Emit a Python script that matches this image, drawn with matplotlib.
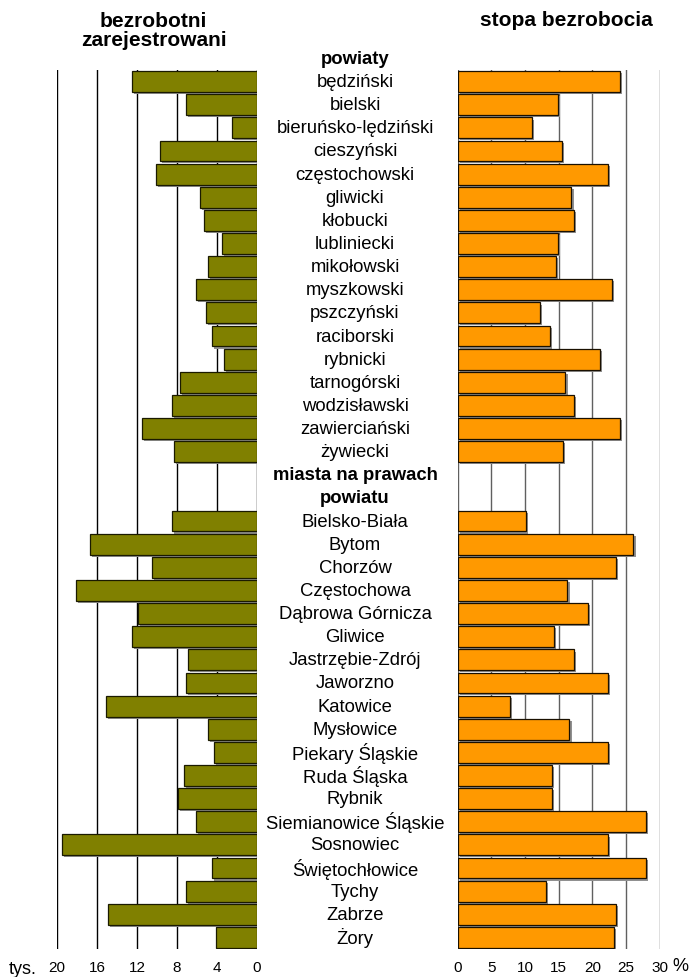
import numpy as np
import matplotlib
matplotlib.use("Agg")
import matplotlib.pyplot as plt
import matplotlib.patheffects as pe
from matplotlib.transforms import blended_transform_factory

plt.rcParams['font.family'] = ['Liberation Sans', 'DejaVu Sans']

# powiaty (counties)
powiaty = ["będziński", "bielski", "bieruńsko-lędziński", "cieszyński", "częstochowski",
           "gliwicki", "kłobucki", "lubliniecki", "mikołowski", "myszkowski", "pszczyński",
           "raciborski", "rybnicki", "tarnogórski", "wodzisławski", "zawierciański", "żywiecki"]
powiaty_bezrobotni = [12.5, 7.1, 2.5, 9.7, 10.1, 5.7, 5.3, 3.5, 4.9, 6.1, 5.1,
                      4.5, 3.3, 7.7, 8.5, 11.5, 8.3]
powiaty_stopa = [24.1, 14.9, 11.0, 15.5, 22.3, 16.9, 17.2, 14.9, 14.6, 22.9, 12.2,
                 13.7, 21.1, 16.0, 17.2, 24.1, 15.7]

# miasta na prawach powiatu (cities)
miasta = ["Bielsko-Biała", "Bytom", "Chorzów", "Częstochowa", "Dąbrowa Górnicza", "Gliwice",
          "Jastrzębie-Zdrój", "Jaworzno", "Katowice", "Mysłowice", "Piekary Śląskie",
          "Ruda Śląska", "Rybnik", "Siemianowice Śląskie", "Sosnowiec", "Świętochłowice",
          "Tychy", "Zabrze", "Żory"]
miasta_bezrobotni = [8.5, 16.7, 10.5, 18.1, 11.9, 12.5, 6.9, 7.1, 15.1, 4.9, 4.3,
                     7.3, 7.9, 6.1, 19.5, 4.5, 7.1, 14.9, 4.1]
miasta_stopa = [10.1, 26.1, 23.5, 16.3, 19.3, 14.3, 17.2, 22.3, 7.7, 16.6, 22.3,
                14.0, 14.0, 27.9, 22.3, 27.9, 13.1, 23.5, 23.2]

left_ticks = [20, 16, 12, 8, 4, 0]
right_ticks = [0, 5, 10, 15, 20, 25, 30]

# row positions: county block, two header rows, city block
y_pow = np.arange(len(powiaty))
y_mia = len(powiaty) + 2 + np.arange(len(miasta))
y_all = np.concatenate([y_pow, y_mia])
labels = powiaty + miasta
bezrobotni = powiaty_bezrobotni + miasta_bezrobotni
stopa = powiaty_stopa + miasta_stopa

W, H = 690, 978
fig = plt.figure(figsize=(W / 100, H / 100), dpi=100)

top_px, bot_px = 71, 950
ax_b = fig.add_axes([57 / W, 1 - bot_px / H, 200 / W, (bot_px - top_px) / H])
ax_s = fig.add_axes([457.7 / W, 1 - bot_px / H, 202 / W, (bot_px - top_px) / H])

shadow = [pe.SimplePatchShadow(offset=(1.5, -1.5), shadow_rgbFace='#909090', alpha=1.0), pe.Normal()]
bar_h = 0.9

ax_b.barh(y_all, bezrobotni, height=bar_h, color='#808000', edgecolor='#1a1a00',
          linewidth=0.9, zorder=3, path_effects=shadow)
ax_s.barh(y_all, stopa, height=bar_h, color='#FF9900', edgecolor='#1a1000',
          linewidth=0.9, zorder=3, path_effects=shadow)

for ax, ticks, xlim, gcol in [(ax_b, left_ticks, (20, 0), 'black'),
                              (ax_s, right_ticks, (0, 30), '#606060')]:
    ax.set_xlim(*xlim)
    ax.set_ylim(y_all[-1] + 0.5, -0.5)
    for v in ticks:
        ax.axvline(v, color=gcol, linewidth=1.0, zorder=1)
    ax.set_xticks(ticks)
    ax.set_xticklabels([str(v) for v in ticks], fontsize=11)
    ax.tick_params(axis='x', length=0, pad=8)
    ax.set_yticks([])
    for sp in ax.spines.values():
        sp.set_visible(False)

# centre labels
tr = blended_transform_factory(fig.transFigure, ax_b.transData)
cx = 355 / W
for y, lab in zip(y_all, labels):
    ax_b.text(cx, y, lab, transform=tr, ha='center', va='center', fontsize=13.3, clip_on=False)
ax_b.text(cx, -1, "powiaty", transform=tr, ha='center', va='center', fontsize=13.3,
          fontweight='bold', clip_on=False)
ax_b.text(cx, len(powiaty), "miasta na prawach", transform=tr, ha='center', va='center',
          fontsize=13.3, fontweight='bold')
ax_b.text(cx, len(powiaty) + 1, "powiatu", transform=tr, ha='center', va='center',
          fontsize=13.3, fontweight='bold')

# headers
fig.text(153.5 / W, 1 - 31 / H, "bezrobotni\nzarejestrowani", ha='center', va='center',
         fontsize=15, fontweight='bold', linespacing=0.95)
fig.text(566.5 / W, 1 - 20 / H, "stopa bezrobocia", ha='center', va='center',
         fontsize=15, fontweight='bold')

# unit labels
fig.text(23 / W, 1 - 970 / H, "tys.", ha='center', va='center', fontsize=13)
fig.text(680 / W, 1 - 967 / H, "%", ha='center', va='center', fontsize=13)

fig.savefig("out.png", dpi=100)
